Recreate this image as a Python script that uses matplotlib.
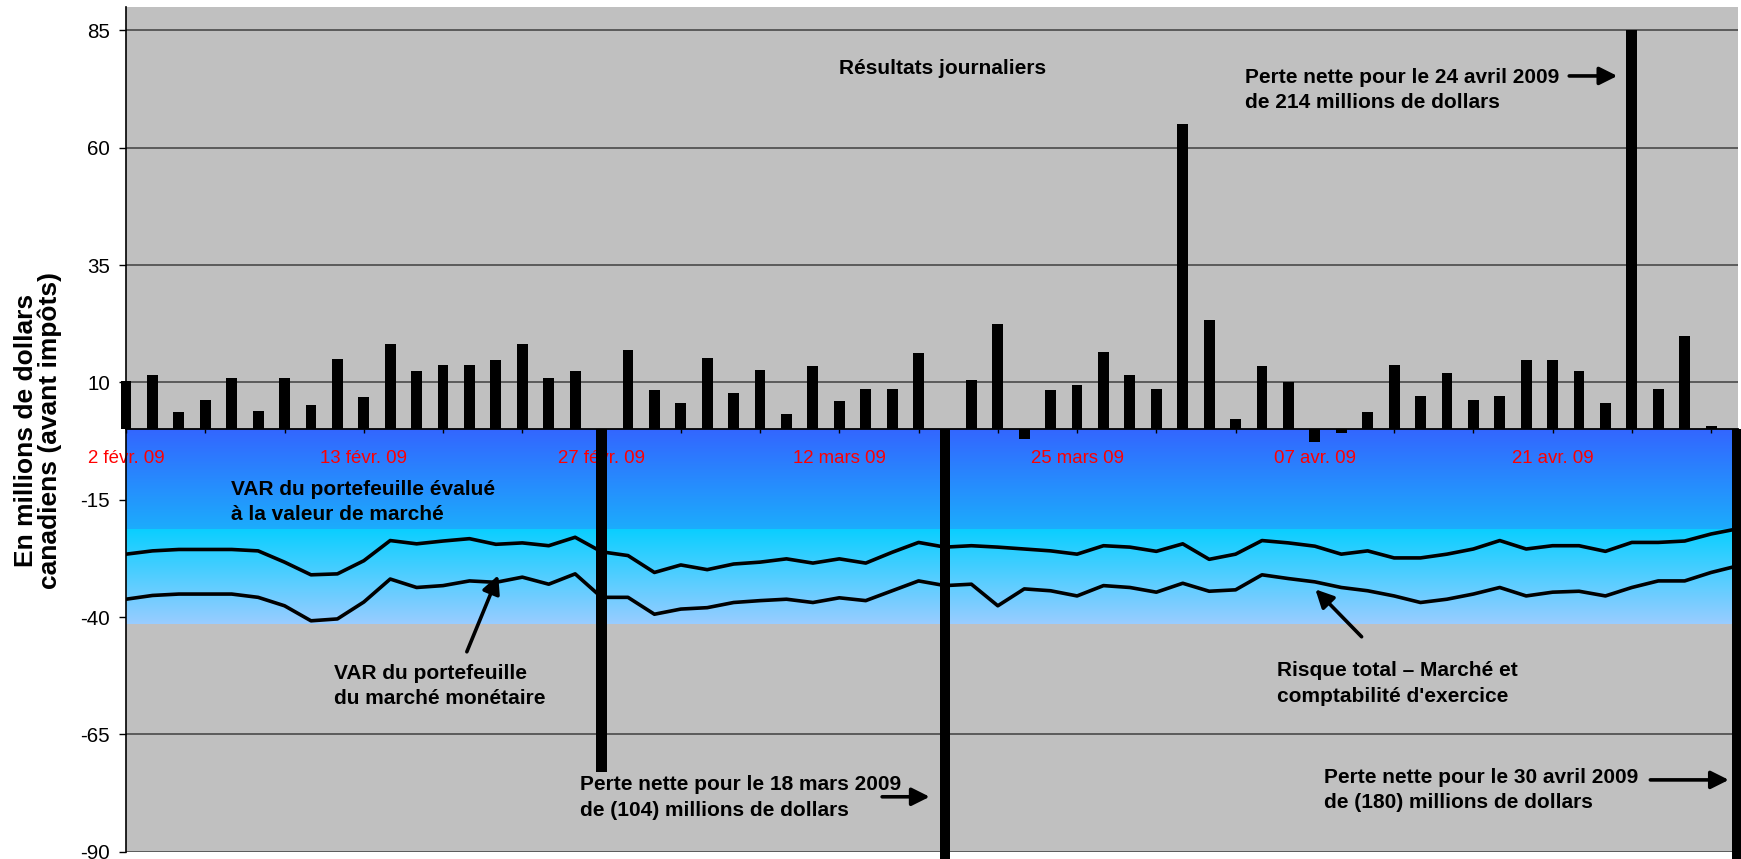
import numpy as np
import matplotlib
matplotlib.use("Agg")
import matplotlib.pyplot as plt
from matplotlib.colors import to_rgb
from matplotlib.patches import Rectangle

plt.rcParams['font.family'] = ['Liberation Sans', 'DejaVu Sans']
plt.rcParams['axes.unicode_minus'] = False

# x labels shown every 9 trading days (2 Feb - 30 Apr 2009)
tick_labels = ["2 févr. 09", "13 févr. 09", "27 févr. 09", "12 mars 09",
               "25 mars 09", "07 avr. 09", "21 avr. 09"]

# daily results, C$ millions (24 Apr bar is truncated at 85 in the original, real 214)
daily = [10.3, 11.5, 3.6, 6.3, 11.0, 4.0, 11.0, 5.1, 14.9, 6.8,
         18.1, 12.5, 13.8, 13.8, 14.7, 18.1, 11.0, 12.5, -73.0, 17.0,
         8.3, 5.7, 15.3, 7.8, 12.7, 3.3, 13.6, 6.1, 8.5, 8.5,
         16.2, -104.0, 10.6, 22.4, -2.1, 8.3, 9.5, 16.4, 11.5, 8.5,
         65.1, 23.4, 2.1, 13.6, 10.0, -2.8, -0.7, 3.6, 13.8, 7.2,
         12.1, 6.3, 7.2, 14.7, 14.7, 12.5, 5.7, 85.0, 8.5, 19.8,
         0.8, -180.0]

# VAR du portefeuille evalue a la valeur de marche (upper line)
var_mtm = [-26.6, -25.9, -25.6, -25.6, -25.6, -25.9, -28.3, -31.0, -30.8, -28.0,
           -23.7, -24.4, -23.8, -23.3, -24.5, -24.2, -24.8, -23.0, -26.1, -26.9,
           -30.5, -28.9, -29.9, -28.7, -28.3, -27.6, -28.5, -27.6, -28.5, -26.2,
           -24.1, -25.1, -24.8, -25.1, -25.5, -25.9, -26.6, -24.8, -25.1, -26.0,
           -24.4, -27.7, -26.6, -23.7, -24.2, -24.9, -26.6, -25.9, -27.4, -27.4,
           -26.6, -25.5, -23.7, -25.5, -24.8, -24.8, -26.0, -24.1, -24.1, -23.8,
           -22.3, -21.2]

# Risque total (lower line)
total_risk = [-36.2, -35.4, -35.1, -35.1, -35.1, -35.8, -37.6, -40.8, -40.4, -36.8,
              -31.9, -33.7, -33.3, -32.3, -32.6, -31.5, -33.0, -30.8, -35.8, -35.8,
              -39.4, -38.3, -38.0, -36.9, -36.5, -36.2, -36.9, -35.9, -36.5, -34.4,
              -32.3, -33.3, -33.0, -37.6, -34.0, -34.4, -35.5, -33.3, -33.7, -34.7,
              -32.8, -34.5, -34.2, -31.0, -31.8, -32.5, -33.7, -34.4, -35.5, -36.9,
              -36.2, -35.1, -33.7, -35.5, -34.7, -34.5, -35.5, -33.7, -32.3, -32.3,
              -30.5, -29.1]

# background bands (gradient areas)
band_edges = [0, -21.2, -41.4]
band_colors = [("#3366FF", "#1CACFC"), ("#0ACFFF", "#99CCFF")]

n = len(daily)
x = np.arange(n)

fig = plt.figure(figsize=(17.41, 8.59), dpi=100)
ax = fig.add_axes([0.0724, 0.0085, 0.9256, 0.9834])
ax.set_facecolor('#C0C0C0')

ax.set_yticks(np.arange(-90, 86, 25))
ax.yaxis.grid(True, color='#404040', lw=1.1)
ax.set_axisbelow(True)
ax.xaxis.set_zorder(2)

for (top, bot), (c1, c2) in zip(zip(band_edges[:-1], band_edges[1:]), band_colors):
    t = np.linspace(0, 1, 256)[:, None, None]
    img = (1 - t) * np.array(to_rgb(c1)) + t * np.array(to_rgb(c2))
    ax.imshow(img, extent=(0, n - 1, bot, top), aspect='auto', zorder=1,
              interpolation='bilinear')

bars = ax.bar(x, daily, width=0.41, color='black', zorder=3)
clip = Rectangle((-0.01, -0.01), 1.02, 1.01, transform=ax.transAxes)
for b in bars:
    b.set_clip_path(clip)

ax.plot(x, var_mtm, color='black', lw=2.6, zorder=4)
ax.plot(x, total_risk, color='black', lw=2.6, zorder=4)

ax.set_xlim(0, n - 1)
ax.set_ylim(-90, 90)

for s in ['top', 'right']:
    ax.spines[s].set_visible(False)
ax.spines['bottom'].set_position(('data', 0))
ax.spines['bottom'].set_linewidth(1.3)
ax.spines['left'].set_linewidth(1.2)

ax.set_xticks(range(0, n, 9))
ax.set_xticklabels(tick_labels)
ax.set_xticks(range(0, n, 3), minor=True)
ax.tick_params(axis='x', which='both', direction='out', length=3, width=1,
               labelsize=13.4, labelcolor='red', pad=12)
ax.tick_params(axis='y', length=5, width=1, labelsize=14.8, pad=6.5)

# y is the baseline of the last line of each note
fs = 15
ls = 1.42
notes = [
    (26.98, 75.8, "Résultats journaliers"),
    (42.36, 68.45, "Perte nette pour le 24 avril 2009\nde 214 millions de dollars"),
    (3.96, -19.4, "VAR du portefeuille évalué\nà la valeur de marché"),
    (7.87, -58.6, "VAR du portefeuille\ndu marché monétaire"),
    (43.55, -58.0, "Risque total – Marché et\ncomptabilité d'exercice"),
    (17.18, -82.3, "Perte nette pour le 18 mars 2009\nde (104) millions de dollars"),
    (45.33, -80.7, "Perte nette pour le 30 avril 2009\nde (180) millions de dollars"),
]
for tx, ty, s in notes:
    ax.text(tx, ty, s, fontsize=fs, fontweight='bold', va='baseline',
            linespacing=ls, zorder=6)

arrow = dict(arrowstyle='-|>', lw=2.6, color='black', shrinkA=0, shrinkB=0,
             mutation_scale=27)
ax.annotate('', xy=(56.45, 75.3), xytext=(54.63, 75.3), arrowprops=arrow, zorder=5)
ax.annotate('', xy=(14.09, -31.1), xytext=(12.9, -47.4), arrowprops=arrow, zorder=5)
ax.annotate('', xy=(45.02, -34.1), xytext=(46.77, -44.2), arrowprops=arrow, zorder=5)
ax.annotate('', xy=(30.42, -78.3), xytext=(28.62, -78.3), arrowprops=arrow, zorder=5)
ax.annotate('', xy=(60.67, -74.7), xytext=(57.7, -74.7), arrowprops=arrow, zorder=5)

fig.text(0.0218, 0.4994, "En millions de dollars\ncanadiens (avant impôts)",
         rotation=90, ha='center', va='center', fontsize=19, fontweight='bold',
         linespacing=0.95)

fig.savefig('out.png', dpi=100)
